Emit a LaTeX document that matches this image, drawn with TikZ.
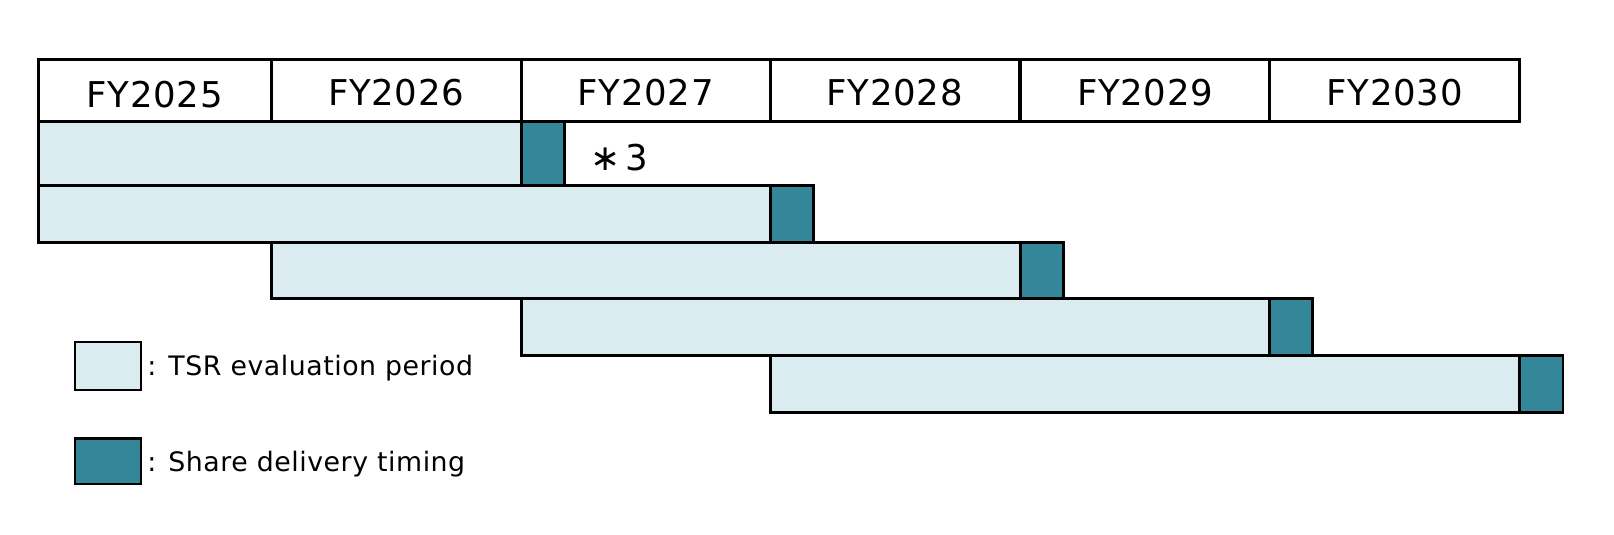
\documentclass[tikz,border=0pt]{standalone}
\usepackage{fontspec}
\setmainfont{DejaVu Sans}[LetterSpace=2]
\newfontfamily\astfont{DejaVu Sans}
\definecolor{lightbar}{RGB}{218,236,240}
\definecolor{darkbar}{RGB}{51,135,153}
\begin{document}
\begin{tikzpicture}[x=1pt,y=-1pt,
  cell/.style={draw=black,line width=2.8pt,fill=white,anchor=north west,inner sep=0pt,minimum height=61pt},
  celltext/.style={inner sep=0pt,font=\fontsize{34.5}{38}\selectfont},
  evalbar/.style={draw=black,line width=2.8pt,fill=lightbar,anchor=north west,inner sep=0pt},
  delivbox/.style={draw=black,line width=2.8pt,fill=darkbar,anchor=north west,inner sep=0pt,minimum width=42pt},
  legtext/.style={anchor=west,inner sep=0pt,font=\fontsize{26}{29}\selectfont}]
\useasboundingbox (1,1) rectangle (1569,519.8);
% header
\node[cell,minimum width=226pt] (h1) at (37,57) {};
\node[celltext] (y1) at ([yshift=-4pt]h1.center) {FY2025};
\node[cell,minimum width=243pt] (h2) at (263,57) {};
\node[celltext] (y2) at ([yshift=-2pt]h2.center) {FY2026};
\node[cell,minimum width=242pt] (h3) at (506,57) {};
\node[celltext] (y3) at ([yshift=-2pt]h3.center) {FY2027};
\node[cell,minimum width=242pt] (h4) at (748,57) {};
\node[celltext] (y4) at ([yshift=-2pt]h4.center) {FY2028};
\node[cell,minimum width=242pt] (h5) at (991,57) {};
\node[celltext] (y5) at ([yshift=-2pt]h5.center) {FY2029};
\node[cell,minimum width=243pt] (h6) at (1233,57) {};
\node[celltext] (y6) at ([yshift=-2pt]h6.center) {FY2030};
% bars
\node[evalbar,minimum width=469pt,minimum height=62pt] (b1) at (37,118) {};
\node[delivbox,minimum height=62pt] (d1) at (506,118) {};
\node[anchor=west,inner sep=0pt,font=\fontsize{34.5}{38}\selectfont] (n3) at (574,154) {{\astfont\fontsize{35}{38}\selectfont ∗}\kern5pt 3};
\node[evalbar,minimum width=711pt,minimum height=55pt] (b2) at (37,180) {};
\node[delivbox,minimum height=55pt] (d2) at (748,180) {};
\node[evalbar,minimum width=728pt,minimum height=55pt] (b3) at (263,235) {};
\node[delivbox,minimum height=55pt] (d3) at (991,235) {};
\node[evalbar,minimum width=727pt,minimum height=55pt] (b4) at (506,290) {};
\node[delivbox,minimum height=55pt] (d4) at (1233,290) {};
\node[evalbar,minimum width=728pt,minimum height=55pt] (b5) at (748,345) {};
\node[delivbox,minimum height=55pt] (d5) at (1476,345) {};
% legend
\node[evalbar,line width=2.2pt,minimum width=64pt,minimum height=47pt] (l1) at (73,332) {};
\node[legtext] (t1) at (144,359) {: TSR evaluation period};
\node[delivbox,line width=2.2pt,minimum width=64pt,minimum height=44pt] (l2) at (73,426) {};
\node[legtext] (t2) at (144,452) {: Share delivery timing};
\end{tikzpicture}
\end{document}
